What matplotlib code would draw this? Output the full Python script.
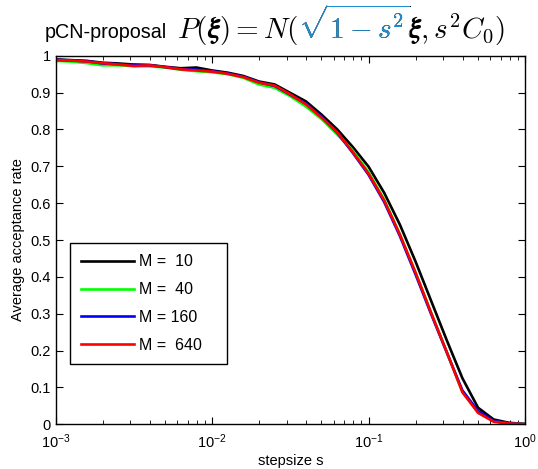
import numpy as np
import matplotlib
matplotlib.use("Agg")
import matplotlib.pyplot as plt
from matplotlib.transforms import Bbox

plt.rcParams["font.family"] = ["Liberation Sans", "DejaVu Sans"]
plt.rcParams["mathtext.fontset"] = "cm"

# ── data ────────────────────────────────────────────────────────────────────
s = 10.0 ** np.linspace(-3, 0, 31)

acc_m10 = [0.990, 0.988, 0.986, 0.981, 0.979, 0.976, 0.975, 0.970, 0.966, 0.968,
           0.960, 0.954, 0.945, 0.930, 0.922, 0.899, 0.876, 0.840, 0.800, 0.752,
           0.699, 0.628, 0.542, 0.442, 0.335, 0.228, 0.125, 0.045, 0.013, 0.004,
           0.001]
acc_m40 = [0.986, 0.984, 0.980, 0.974, 0.974, 0.972, 0.971, 0.968, 0.962, 0.958,
           0.955, 0.950, 0.940, 0.922, 0.913, 0.890, 0.862, 0.828, 0.786, 0.742,
           0.684, 0.610, 0.516, 0.412, 0.303, 0.196, 0.088, 0.033, 0.008, 0.002,
           0.0005]
acc_m160 = [0.989, 0.987, 0.985, 0.979, 0.977, 0.975, 0.974, 0.969, 0.964, 0.962,
            0.958, 0.952, 0.943, 0.928, 0.918, 0.894, 0.870, 0.834, 0.791, 0.736,
            0.677, 0.603, 0.511, 0.407, 0.299, 0.195, 0.092, 0.036, 0.009, 0.002,
            0.0005]
acc_m640 = [0.988, 0.987, 0.984, 0.980, 0.976, 0.972, 0.974, 0.969, 0.963, 0.960,
            0.957, 0.951, 0.942, 0.927, 0.919, 0.895, 0.868, 0.832, 0.792, 0.738,
            0.680, 0.607, 0.515, 0.412, 0.302, 0.196, 0.087, 0.031, 0.007, 0.002,
            0.0005]

series = [acc_m10, acc_m40, acc_m160, acc_m640]
labels = ["M =  10", "M =  40", "M = 160", "M =  640"]
colors = ["#000000", "#00ff00", "#0000ff", "#ff0000"]

# ── figure ──────────────────────────────────────────────────────────────────
W, H = 538, 469
fig = plt.figure(figsize=(W / 100, H / 100), dpi=100)
ax = fig.add_axes([0.1035, 0.0953, 0.8723, 0.7859])

for y, lab, c in zip(series, labels, colors):
    ax.plot(s, y, color=c, lw=1.9, label=lab)

ax.set_xscale("log")
ax.set_xlim(1e-3, 1)
ax.set_ylim(0, 1)
ax.set_yticks(np.arange(0, 1.01, 0.1))
ax.set_yticklabels(["0"] + [f"{v:.1f}" for v in np.arange(0.1, 0.95, 0.1)] + ["1"])
ax.tick_params(which="both", direction="in", top=True, right=True,
               labelsize=10.5, colors="black")
ax.tick_params(which="major", length=5, width=0.8)
ax.tick_params(which="minor", length=3, width=0.6)
ax.tick_params(axis="x", which="both", pad=6)
for sp in ax.spines.values():
    sp.set_linewidth(1.0)

ax.set_xlabel("stepsize s", fontsize=10.5, labelpad=2)
ax.set_ylabel("Average acceptance rate", fontsize=10.5, labelpad=4)

leg = ax.legend(loc="lower left", bbox_to_anchor=(0.0305, 0.1636),
                borderaxespad=0, fancybox=False, framealpha=1,
                edgecolor="black", fontsize=11.5, handlelength=3.3,
                labelspacing=0.8, borderpad=0.7, handletextpad=0.35)
leg.get_frame().set_linewidth(1.0)
# MATLAB-style legend leaves extra room right of the labels
renderer = fig.canvas.get_renderer()
extra = (228 - 70) - leg.get_window_extent(renderer).width
if extra > 0:
    for t in leg.get_texts():
        t.set_text(t.get_text() + " " * int(round(extra / 4.4)))

# ── title: sans text + CM math, square-root part in blue ───────────────────
full = r"$P(\boldsymbol{\xi}) = N(\sqrt{1-s^2}\boldsymbol{\xi}, s^2C_0)$"
pre1 = r"$P(\boldsymbol{\xi}) = N($"
pre2 = r"$P(\boldsymbol{\xi}) = N(\sqrt{1-s^2}$"

base_px = 33
t_math = fig.text(0, 1 - base_px / H, full, color="black",
                  va="baseline", ha="left", fontsize=20)
wm = t_math.get_window_extent(renderer).width
msize = 20 * 366 / wm * 0.9
t_math.set_fontsize(msize)
wm = t_math.get_window_extent(renderer).width

# keep the tall radical bar inside the canvas
top = t_math.get_window_extent(renderer).y1
if top > H - 2:
    base_px += top - (H - 2)
    t_math.set_y(1 - base_px / H)

t_word = fig.text(0, 1 - base_px / H, "pCN-proposal", color="black",
                  va="baseline", ha="left", fontsize=15)
w = t_word.get_window_extent(renderer).width
t_word.set_fontsize(15 * 122 / w)

# centre word + gap + math on the reference title's midpoint
gap = 10
total = 122 + gap + wm
xw = 275 - total / 2
x0 = xw + 122 + gap
t_word.set_x(xw / W)
t_math.set_x(x0 / W)

probe = fig.text(0, 0, pre1, fontsize=msize)
w1 = probe.get_window_extent(renderer).width
probe.set_text(pre2)
w2 = probe.get_window_extent(renderer).width
probe.remove()

t_blue = fig.text(x0 / W, 1 - base_px / H, full, color="#1f8fd3",
                  va="baseline", ha="left", fontsize=msize)
t_blue.set_clip_box(Bbox.from_extents(x0 + w1 - 0.5, 0, x0 + w2 - 1, H))
t_blue.set_clip_on(True)

fig.savefig("out.png", dpi=100)
